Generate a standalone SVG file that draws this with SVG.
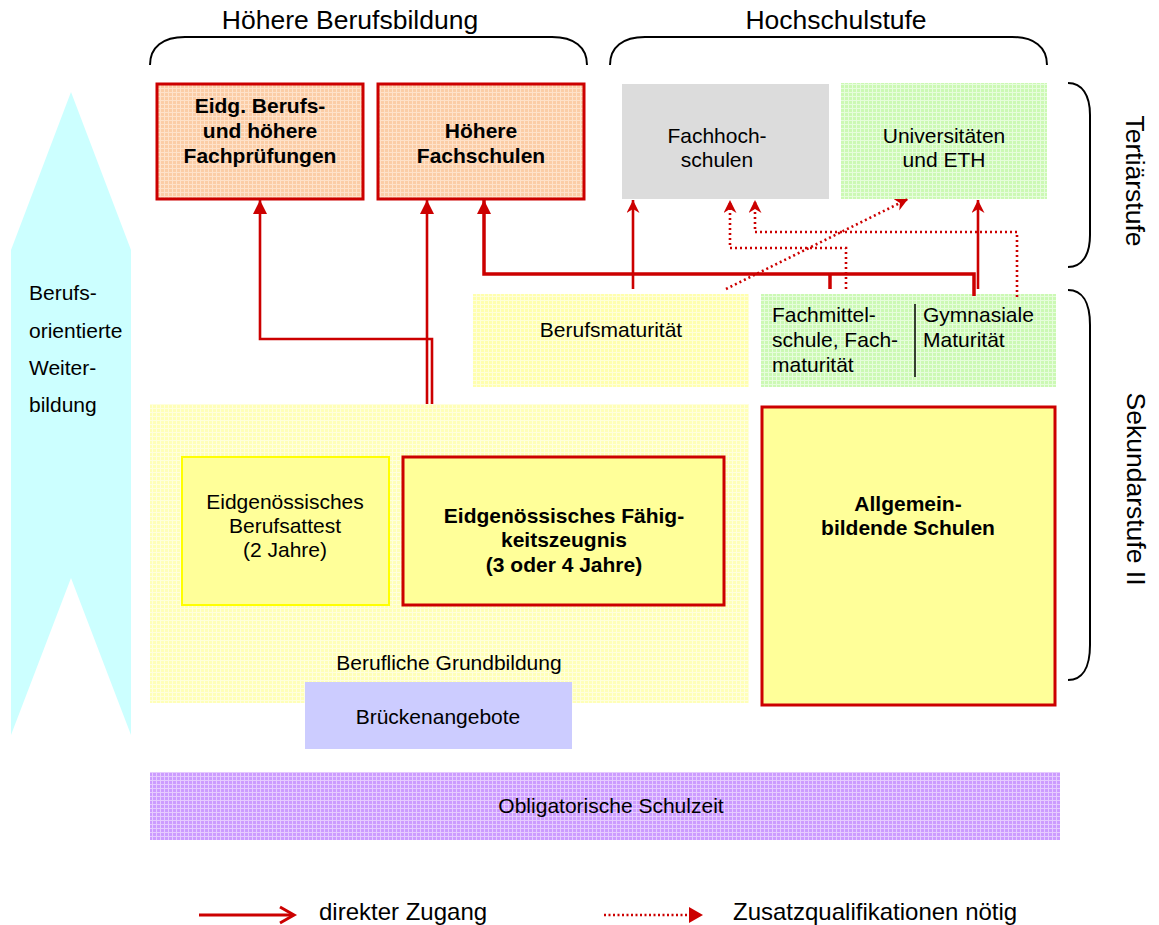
<svg xmlns="http://www.w3.org/2000/svg" width="1159" height="925" viewBox="0 0 1159 925">
<style>
text{font-family:"Liberation Sans",Arial,sans-serif;fill:#000}
.h{font-size:26.5px}
.t{font-size:21px}
.b{font-size:21px;font-weight:bold}
.m{text-anchor:middle}
.brace{fill:none;stroke:#000;stroke-width:2}
.red{fill:none;stroke:#cc0000;stroke-width:2.6}
.thick{fill:none;stroke:#cc0000;stroke-width:3.5}
.dot{fill:none;stroke:#cc0000;stroke-width:2.6;stroke-dasharray:2 3}
</style>
<defs>
<marker id="tri" markerUnits="userSpaceOnUse" markerWidth="16" markerHeight="16" refX="14" refY="7" orient="auto"><path d="M0,0L14,7L0,14z" fill="#cc0000"/></marker>
<marker id="barb" markerUnits="userSpaceOnUse" markerWidth="16" markerHeight="16" refX="13" refY="6.5" orient="auto"><path d="M0,0L13,6.5L0,13L4,6.5z" fill="#cc0000"/></marker>
<pattern id="pOr" width="4" height="4" patternUnits="userSpaceOnUse"><rect width="4" height="4" fill="#fbcda6"/><path d="M0,0.5H4M0.5,0V4" stroke="#fee2ca" stroke-width="1"/></pattern>
<pattern id="pGr" width="4" height="4" patternUnits="userSpaceOnUse"><rect width="4" height="4" fill="#ccf9b4"/><path d="M0,0.5H4M0.5,0V4" stroke="#e6fddc" stroke-width="1"/></pattern>
<pattern id="pYe" width="4" height="4" patternUnits="userSpaceOnUse"><rect width="4" height="4" fill="#ffffa0"/><path d="M0,0.5H4M0.5,0V4" stroke="#ffffd2" stroke-width="1"/></pattern>
<pattern id="pLi" width="4" height="4" patternUnits="userSpaceOnUse"><rect width="4" height="4" fill="#cc9cff"/><path d="M0,0.5H4M0.5,0V4" stroke="#e6ccff" stroke-width="1"/></pattern>
</defs>
<rect width="1159" height="925" fill="#fff"/>

<g id="headings">
<path class="brace" d="M150,65C150,47 163,37 185,37L552,37C574,37 587,47 587,65"/>
<text class="h m" x="350" y="29">Höhere Berufsbildung</text>
<path class="brace" d="M610,65C610,47 623,37 645,37L1012,37C1034,37 1047,47 1047,65"/>
<text class="h m" x="836" y="29">Hochschulstufe</text>
<path class="brace" d="M1068,83C1082,83 1090,95 1090,115L1090,235C1090,255 1082,267 1068,267"/>
<text class="h m" transform="translate(1126,181) rotate(90)">Tertiärstufe</text>
<path class="brace" d="M1068,290C1082,290 1090,302 1090,325L1090,645C1090,668 1082,680 1068,680"/>
<text class="h m" transform="translate(1127,489) rotate(90)">Sekundarstufe II</text>
</g>

<g id="weiterbildung">
<polygon points="71,92 131,250 131,735 71,578 11,735 11,250" fill="#ccffff"/>
<text class="t" x="29" y="300">Berufs-</text>
<text class="t" x="29" y="338">orientierte</text>
<text class="t" x="29" y="375">Weiter-</text>
<text class="t" x="29" y="412">bildung</text>
</g>

<g id="fachpruefungen">
<rect x="157" y="84" width="206" height="115" fill="url(#pOr)" stroke="#cc0000" stroke-width="3"/>
<text class="b m" x="260" y="113">Eidg. Berufs-</text>
<text class="b m" x="260" y="138">und höhere</text>
<text class="b m" x="260" y="163">Fachprüfungen</text>
</g>

<g id="hoehere-fachschulen">
<rect x="378" y="84" width="206" height="115" fill="url(#pOr)" stroke="#cc0000" stroke-width="3"/>
<text class="b m" x="481" y="138">Höhere</text>
<text class="b m" x="481" y="163">Fachschulen</text>
</g>

<g id="fachhochschulen">
<rect x="622" y="84" width="207" height="115" fill="#dcdcdc"/>
<text class="t m" x="717" y="143">Fachhoch-</text>
<text class="t m" x="717" y="167">schulen</text>
</g>

<g id="universitaeten">
<rect x="841" y="83" width="206" height="116" fill="url(#pGr)"/>
<text class="t m" x="944" y="143">Universitäten</text>
<text class="t m" x="944" y="167">und ETH</text>
</g>

<g id="berufsmaturitaet">
<rect x="473" y="294" width="276" height="93" fill="url(#pYe)" opacity="0.85"/>
<text class="t m" x="611" y="337">Berufsmaturität</text>
</g>

<g id="fachmittelschule-gymnasium">
<rect x="761" y="294" width="295" height="93" fill="url(#pGr)"/>
<line x1="915" y1="304" x2="915" y2="377" stroke="#000" stroke-width="1.5"/>
<text class="t" x="772" y="322">Fachmittel-</text>
<text class="t" x="772" y="347">schule, Fach-</text>
<text class="t" x="772" y="372">maturität</text>
<text class="t" x="923" y="322">Gymnasiale</text>
<text class="t" x="923" y="347">Maturität</text>
</g>

<g id="berufliche-grundbildung">
<rect x="150" y="404" width="599" height="299" fill="url(#pYe)" opacity="0.75"/>
<text class="t m" x="449" y="670">Berufliche Grundbildung</text>
</g>

<g id="berufsattest">
<rect x="182" y="457" width="207" height="148" fill="#ffff99" stroke="#ffff00" stroke-width="2"/>
<text class="t m" x="285" y="509">Eidgenössisches</text>
<text class="t m" x="285" y="533">Berufsattest</text>
<text class="t m" x="285" y="557">(2 Jahre)</text>
</g>

<g id="faehigkeitszeugnis">
<rect x="403" y="457" width="321" height="148" fill="#ffff99" stroke="#cc0000" stroke-width="3"/>
<text class="b m" x="564" y="523">Eidgenössisches Fähig-</text>
<text class="b m" x="564" y="547">keitszeugnis</text>
<text class="b m" x="564" y="572">(3 oder 4 Jahre)</text>
</g>

<g id="allgemeinbildende-schulen">
<rect x="762" y="407" width="293" height="298" fill="#ffff99" stroke="#cc0000" stroke-width="3"/>
<text class="b m" x="908" y="511">Allgemein-</text>
<text class="b m" x="908" y="535">bildende Schulen</text>
</g>

<g id="brueckenangebote">
<rect x="305" y="682" width="267" height="67" fill="#ccccff"/>
<text class="t m" x="438" y="724">Brückenangebote</text>
</g>

<g id="obligatorische-schulzeit">
<rect x="150" y="772" width="910" height="68" fill="url(#pLi)"/>
<text class="t m" x="611" y="813">Obligatorische Schulzeit</text>
</g>

<g id="connectors">
<path class="red" d="M432,404V339H260V200" marker-end="url(#tri)"/>
<path class="red" d="M427,404V200" marker-end="url(#tri)"/>
<path class="thick" d="M974,296V274H484V200" marker-end="url(#tri)"/>
<path class="thick" d="M830,289V274"/>
<path class="red" d="M633,289V200" marker-end="url(#barb)"/>
<path class="red" d="M978,289V200" marker-end="url(#barb)"/>
<path class="dot" d="M846,289V248H730V200" marker-end="url(#barb)"/>
<path class="dot" d="M1017,297V232H755V200" marker-end="url(#barb)"/>
<path class="dot" d="M726,289L908,199" marker-end="url(#barb)"/>
</g>

<g id="legend">
<line x1="199" y1="915" x2="292" y2="915" stroke="#cc0000" stroke-width="3"/>
<path d="M280,907L294,915L280,923" fill="none" stroke="#cc0000" stroke-width="3"/>
<text x="319" y="920" style="font-size:24px">direkter Zugang</text>
<line x1="604" y1="915" x2="690" y2="915" stroke="#cc0000" stroke-width="2.6" stroke-dasharray="2 2.5"/>
<path d="M689,907L703,915L689,923z" fill="#cc0000"/>
<text x="733" y="920" style="font-size:24px">Zusatzqualifikationen nötig</text>
</g>
</svg>
